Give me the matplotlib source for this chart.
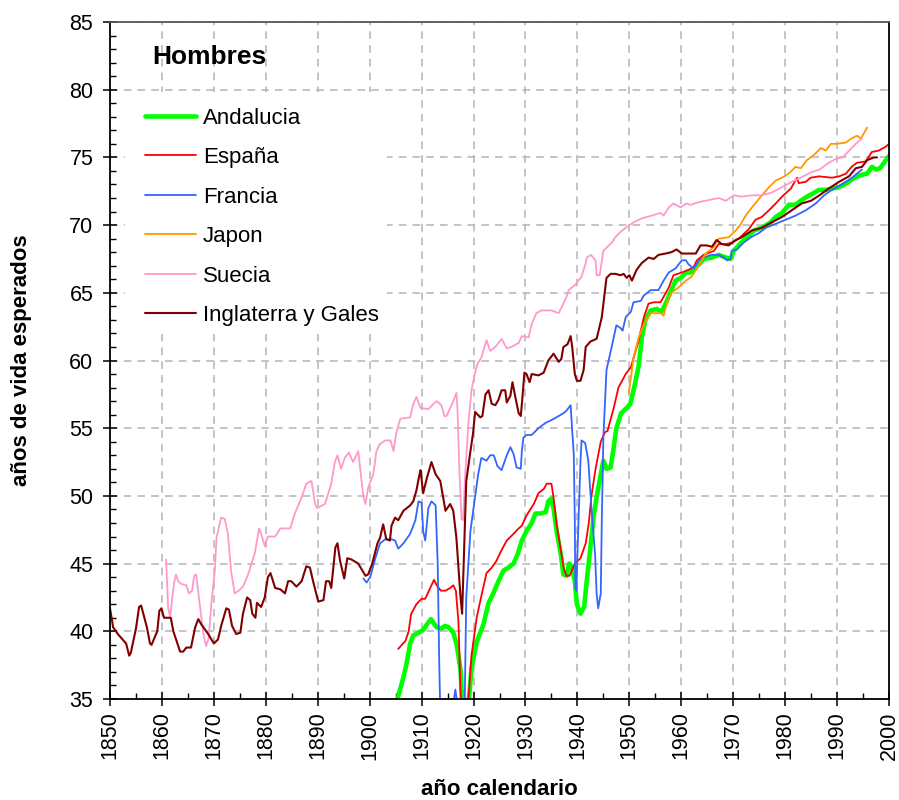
import matplotlib
matplotlib.use("Agg")
import matplotlib.pyplot as plt
from matplotlib.patches import Rectangle
from matplotlib.ticker import MultipleLocator

plt.rcParams["font.family"] = ["Liberation Sans", "DejaVu Sans"]

# --- data (year, life expectancy at birth, men) ---
and_x = [1905.5, 1906.5, 1907.1, 1907.8, 1908.4, 1909.4, 1910.3, 1911.0, 1911.8, 1912.5,
         1912.9, 1913.8, 1914.5, 1915.2, 1916.1, 1916.7, 1917.1, 1917.5, 1917.8, 1918.3,
         1918.8, 1919.3, 1919.6, 1920.6, 1921.9, 1922.9, 1923.8, 1924.8, 1925.8, 1926.7,
         1927.7, 1928.5, 1929.3, 1930.2, 1931.2, 1931.9, 1932.9, 1933.9, 1934.4, 1935.0,
         1935.4, 1936.0, 1936.8, 1937.3, 1937.9, 1938.4, 1938.9, 1939.5, 1939.9, 1940.6,
         1941.3, 1941.8, 1942.5, 1943.1, 1943.7, 1944.5, 1945.0, 1945.6, 1946.4, 1947.0,
         1947.5, 1948.4, 1949.5, 1950.2, 1951.1, 1951.8, 1952.4, 1953.1, 1954.1, 1955.3,
         1956.2, 1957.0, 1958.1, 1958.9, 1959.9, 1960.9, 1961.8, 1962.8, 1963.7, 1964.3,
         1965.9, 1967.2, 1968.6, 1969.5, 1970.1, 1971.5, 1972.6, 1974.0, 1975.5, 1977.2,
         1978.2, 1979.4, 1980.7, 1982.0, 1983.0, 1984.2, 1985.2, 1986.5, 1987.8, 1989.0,
         1990.4, 1991.9, 1993.3, 1994.6, 1995.8, 1996.7, 1997.5, 1998.3, 1999.4, 2000.0]
and_y = [35.2, 36.6, 37.6, 39.1, 39.7, 39.9, 40.1, 40.5, 40.9, 40.5,
         40.3, 40.2, 40.4, 40.3, 39.9, 39.1, 38.2, 37.1, 35.0, 32.0,
         34.0, 35.8, 37.3, 39.2, 40.5, 42.1, 42.8, 43.7, 44.5, 44.7,
         45.0, 45.7, 46.7, 47.4, 48.0, 48.7, 48.7, 48.8, 49.6, 49.8,
         49.1, 47.4, 45.7, 44.2, 44.1, 45.0, 44.8, 43.7, 42.0, 41.3,
         41.8, 43.7, 46.2, 48.4, 49.9, 51.6, 52.6, 52.0, 52.1, 53.6,
         55.0, 56.1, 56.5, 56.8, 58.3, 59.6, 61.7, 63.0, 63.7, 63.8,
         63.6, 64.2, 65.2, 65.9, 66.1, 66.5, 66.5, 66.9, 67.2, 67.5,
         67.6, 67.8, 67.6, 67.5, 68.1, 68.7, 69.1, 69.6, 69.8, 70.2,
         70.6, 70.9, 71.5, 71.5, 71.8, 72.1, 72.3, 72.6, 72.6, 72.7,
         72.8, 73.1, 73.5, 73.7, 73.8, 74.3, 74.1, 74.2, 74.8, 75.1]

esp_x = [1905.5, 1906.9, 1907.5, 1908.0, 1909.0, 1910.0, 1910.7, 1911.3, 1911.9, 1912.4,
         1912.9, 1913.7, 1914.6, 1915.5, 1916.1, 1916.6, 1917.1, 1917.5, 1917.8, 1918.6,
         1919.0, 1919.6, 1920.6, 1921.5, 1922.5, 1923.5, 1924.4, 1925.4, 1926.4, 1927.7,
         1928.7, 1929.3, 1930.0, 1930.6, 1931.6, 1932.5, 1933.5, 1934.1, 1935.0, 1935.4,
         1936.0, 1936.8, 1937.4, 1937.9, 1938.5, 1939.5, 1940.6, 1941.6, 1942.2, 1942.7,
         1943.5, 1944.5, 1945.3, 1945.8, 1947.0, 1947.9, 1949.3, 1950.3, 1951.8, 1952.8,
         1953.7, 1954.7, 1956.0, 1956.6, 1957.6, 1958.5, 1960.1, 1961.4, 1962.4, 1963.0,
         1964.3, 1966.3, 1967.2, 1968.6, 1969.7, 1971.1, 1971.6, 1973.0, 1974.3, 1975.5,
         1976.9, 1978.2, 1979.4, 1981.1, 1981.7, 1982.3, 1982.6, 1984.0, 1984.9, 1986.5,
         1989.0, 1990.4, 1991.7, 1992.8, 1993.8, 1995.5, 1996.7, 1998.0, 1999.4, 2000.0]
esp_y = [38.7, 39.3, 40.0, 41.3, 42.0, 42.4, 42.4, 42.9, 43.4, 43.8,
         43.4, 43.0, 43.0, 43.2, 43.4, 43.0, 40.7, 35.5, 33.0, 32.0,
         34.8, 38.2, 41.0, 42.6, 44.3, 44.7, 45.2, 46.0, 46.7, 47.2,
         47.6, 47.8, 48.4, 48.8, 49.4, 50.2, 50.5, 50.9, 50.9, 49.9,
         47.9, 46.0, 44.6, 44.1, 44.1, 45.0, 45.4, 46.5, 48.0, 50.0,
         52.0, 54.0, 54.7, 54.8, 56.5, 58.0, 59.0, 59.5, 61.5, 63.2,
         64.2, 64.3, 64.3, 64.7, 65.4, 66.3, 66.5, 66.7, 66.9, 67.4,
         67.8, 68.1, 68.6, 68.6, 68.7, 69.0, 69.2, 69.7, 70.4, 70.6,
         71.1, 71.6, 72.1, 72.7, 73.1, 73.5, 73.1, 73.2, 73.5, 73.6,
         73.5, 73.6, 73.8, 74.3, 74.6, 74.7, 75.4, 75.5, 75.8, 76.0]

fra_x = [1898.8, 1899.4, 1900.1, 1901.1, 1902.0, 1903.0, 1904.2, 1904.9, 1905.5, 1906.5,
         1907.8, 1908.8, 1909.4, 1910.0, 1910.3, 1910.7, 1911.3, 1911.9, 1912.7, 1913.1,
         1913.4, 1913.6, 1914.0, 1916.1, 1916.5, 1916.9, 1917.5, 1918.2, 1918.6, 1919.4,
         1920.0, 1920.9, 1921.5, 1922.5, 1923.2, 1923.9, 1924.6, 1925.4, 1926.4, 1927.1,
         1927.7, 1928.3, 1929.1, 1929.3, 1929.6, 1930.2, 1931.2, 1932.5, 1933.9, 1935.0,
         1936.4, 1937.3, 1937.9, 1938.7, 1939.0, 1939.3, 1939.5, 1939.6, 1939.8, 1940.0,
         1940.6, 1940.8, 1941.5, 1942.1, 1942.7, 1943.4, 1943.7, 1944.0, 1944.5, 1944.7,
         1945.0, 1945.6, 1946.6, 1947.5, 1948.3, 1948.7, 1949.3, 1950.3, 1950.8, 1952.2,
         1952.8, 1954.1, 1955.6, 1956.6, 1957.6, 1958.9, 1960.1, 1960.9, 1961.4, 1962.4,
         1963.4, 1964.3, 1965.7, 1967.2, 1968.2, 1968.8, 1969.5, 1969.7, 1970.7, 1972.0,
         1973.4, 1974.9, 1976.3, 1978.2, 1980.1, 1982.0, 1984.0, 1985.9, 1987.5, 1989.0,
         1990.4, 1991.7, 1992.9, 1993.8, 1994.8]
fra_y = [43.9, 43.6, 44.0, 45.4, 46.5, 46.8, 46.8, 46.7, 46.1, 46.5,
         47.2, 48.2, 49.6, 49.5, 47.4, 46.7, 49.1, 49.6, 49.3, 45.0,
         37.6, 34.0, 30.0, 34.6, 35.7, 34.6, 30.0, 32.0, 42.5, 47.4,
         49.1, 51.6, 52.8, 52.6, 53.0, 53.0, 52.2, 51.9, 53.0, 53.6,
         53.1, 52.1, 52.0, 53.3, 54.3, 54.5, 54.5, 55.0, 55.4, 55.6,
         55.9, 56.1, 56.3, 56.7, 54.8, 53.1, 48.2, 43.2, 43.0, 45.7,
         52.6, 54.1, 53.9, 52.6, 49.1, 45.7, 42.8, 41.7, 42.8, 48.2,
         54.3, 59.3, 61.0, 62.6, 62.4, 62.2, 63.2, 63.6, 64.3, 64.4,
         64.8, 65.2, 65.2, 65.9, 66.5, 66.8, 67.4, 67.4, 67.1, 66.8,
         67.4, 67.6, 67.8, 67.8, 67.6, 67.4, 67.5, 68.1, 68.2, 68.7,
         69.1, 69.4, 69.8, 70.1, 70.4, 70.7, 71.1, 71.6, 72.2, 72.6,
         72.9, 73.2, 73.5, 73.8, 74.1]

jap_x = [1949.9, 1950.5, 1950.8, 1951.8, 1952.8, 1954.1, 1955.1, 1956.0, 1956.6, 1957.2,
         1958.1, 1959.5, 1960.9, 1962.0, 1963.4, 1964.7, 1966.3, 1967.2, 1969.1, 1970.5,
         1971.5, 1972.4, 1973.6, 1975.3, 1976.9, 1978.2, 1979.4, 1980.7, 1982.0, 1983.0,
         1984.2, 1985.6, 1986.9, 1987.8, 1988.8, 1989.9, 1991.7, 1992.8, 1993.8, 1994.6,
         1995.2, 1995.8]
jap_y = [57.6, 59.3, 60.2, 61.7, 62.7, 63.5, 63.5, 63.5, 63.3, 64.2,
         65.0, 65.4, 65.9, 66.2, 67.0, 67.9, 68.4, 69.0, 69.1, 69.6,
         70.1, 70.7, 71.3, 72.1, 72.8, 73.3, 73.5, 73.8, 74.3, 74.2,
         74.8, 75.2, 75.7, 75.5, 76.0, 76.0, 76.1, 76.4, 76.6, 76.4,
         76.8, 77.2]

sue_x = [1860.8, 1861.2, 1861.6, 1861.9, 1862.3, 1862.7, 1863.1, 1863.7, 1864.7, 1865.2,
         1865.8, 1866.2, 1866.6, 1866.9, 1867.5, 1868.0, 1868.5, 1869.0, 1869.5, 1870.2,
         1870.5, 1871.4, 1872.1, 1872.7, 1873.3, 1874.0, 1874.8, 1875.6, 1876.6, 1877.9,
         1878.7, 1879.1, 1879.8, 1880.4, 1881.8, 1882.8, 1884.7, 1885.6, 1886.9, 1887.8,
         1888.8, 1889.5, 1889.9, 1891.4, 1892.6, 1893.3, 1893.8, 1894.5, 1895.2, 1896.0,
         1896.8, 1897.8, 1898.8, 1899.2, 1899.7, 1900.7, 1901.3, 1901.9, 1903.0, 1904.0,
         1904.6, 1905.1, 1905.9, 1907.8, 1908.4, 1909.0, 1909.8, 1911.3, 1912.3, 1912.9,
         1913.8, 1914.4, 1914.8, 1915.5, 1916.1, 1916.7, 1916.9, 1917.3, 1917.7, 1918.0,
         1918.4, 1919.0, 1919.6, 1920.3, 1920.8, 1921.5, 1922.5, 1923.2, 1924.2, 1925.4,
         1926.4, 1927.3, 1928.7, 1929.3, 1930.6, 1931.2, 1932.1, 1933.1, 1935.0, 1936.4,
         1937.3, 1937.9, 1938.3, 1939.6, 1940.8, 1941.6, 1941.8, 1942.6, 1943.5, 1943.7,
         1944.3, 1945.0, 1946.6, 1947.3, 1948.3, 1949.3, 1950.8, 1952.4, 1954.3, 1956.0,
         1956.6, 1957.6, 1958.5, 1959.9, 1960.9, 1961.8, 1963.4, 1964.7, 1965.9, 1967.2,
         1968.6, 1970.1, 1971.6, 1973.6, 1975.5, 1977.4, 1979.4, 1981.3, 1983.0, 1985.0,
         1986.6, 1988.4, 1989.8, 1991.1, 1992.3, 1993.6, 1994.8]
sue_y = [45.3, 41.7, 41.1, 42.2, 43.5, 44.2, 43.7, 43.5, 43.4, 42.8,
         43.0, 44.1, 44.2, 43.2, 41.3, 39.8, 38.9, 39.5, 42.0, 44.5,
         46.9, 48.4, 48.3, 47.2, 44.5, 42.8, 43.0, 43.3, 44.2, 45.8,
         47.6, 47.2, 46.3, 47.0, 47.0, 47.6, 47.6, 48.7, 49.9, 50.9,
         51.1, 49.4, 49.1, 49.4, 50.9, 52.5, 53.0, 52.0, 52.8, 53.2,
         52.5, 53.3, 49.9, 49.4, 50.6, 51.6, 53.3, 53.8, 54.1, 54.1,
         53.3, 54.6, 55.7, 55.8, 56.8, 57.3, 56.5, 56.4, 56.8, 57.0,
         56.7, 55.9, 55.9, 56.5, 57.0, 57.6, 56.5, 51.6, 48.3, 48.2,
         51.6, 55.3, 57.8, 59.1, 59.8, 60.2, 61.5, 60.7, 61.0, 61.6,
         60.9, 61.0, 61.3, 61.8, 61.7, 62.7, 63.5, 63.7, 63.7, 63.5,
         64.2, 64.7, 65.2, 65.6, 66.2, 67.2, 67.6, 67.8, 67.4, 66.3,
         66.3, 68.1, 68.7, 69.1, 69.5, 69.8, 70.2, 70.5, 70.7, 70.9,
         70.7, 71.3, 71.6, 71.3, 71.6, 71.5, 71.7, 71.8, 71.9, 72.0,
         71.8, 72.2, 72.1, 72.2, 72.2, 72.4, 72.8, 73.2, 73.5, 73.9,
         74.1, 74.6, 74.9, 75.0, 75.5, 76.0, 76.4]

ing_x = [1850.0, 1850.6, 1851.5, 1853.1, 1853.7, 1854.0, 1855.0, 1855.6, 1856.0, 1857.1,
         1857.7, 1858.0, 1859.1, 1859.5, 1859.9, 1860.4, 1861.7, 1862.2, 1863.5, 1864.1,
         1864.7, 1865.6, 1866.4, 1867.0, 1867.6, 1868.9, 1870.0, 1870.8, 1871.4, 1872.4,
         1872.9, 1873.5, 1874.3, 1875.1, 1875.6, 1876.4, 1877.0, 1877.4, 1878.0, 1878.3,
         1879.1, 1879.8, 1880.4, 1880.9, 1881.8, 1882.8, 1883.7, 1884.3, 1884.9, 1885.9,
         1886.9, 1887.8, 1888.5, 1889.1, 1890.1, 1891.1, 1891.6, 1892.2, 1892.6, 1893.4,
         1893.8, 1894.3, 1895.1, 1895.7, 1896.5, 1897.8, 1899.2, 1899.7, 1900.5, 1901.5,
         1902.0, 1902.6, 1903.2, 1903.9, 1904.2, 1904.9, 1905.5, 1906.5, 1907.8, 1908.4,
         1909.0, 1909.6, 1909.8, 1910.3, 1911.0, 1911.9, 1912.7, 1913.6, 1914.6, 1915.5,
         1916.1, 1916.7, 1917.5, 1917.8, 1918.1, 1918.6, 1919.4, 1919.9, 1920.3, 1921.3,
         1921.7, 1922.3, 1922.9, 1923.5, 1924.2, 1924.8, 1925.4, 1926.1, 1926.4, 1927.1,
         1927.5, 1928.1, 1928.7, 1929.1, 1929.4, 1929.8, 1930.2, 1930.8, 1931.2, 1932.5,
         1933.5, 1934.4, 1935.4, 1936.4, 1936.9, 1937.3, 1938.1, 1938.7, 1939.0, 1939.5,
         1939.9, 1940.6, 1941.2, 1941.6, 1942.5, 1943.7, 1944.7, 1945.6, 1946.4, 1947.3,
         1948.3, 1948.9, 1949.5, 1950.0, 1950.5, 1951.4, 1952.4, 1953.7, 1954.7, 1955.6,
         1957.0, 1958.1, 1959.1, 1960.1, 1962.8, 1963.7, 1964.9, 1965.9, 1966.8, 1967.8,
         1969.1, 1970.5, 1971.6, 1973.6, 1975.5, 1977.4, 1979.4, 1981.3, 1983.2, 1985.0,
         1986.6, 1988.4, 1990.4, 1992.3, 1993.6, 1994.8, 1995.8, 1997.1, 1997.7]
ing_y = [41.7, 40.3, 39.8, 39.1, 38.2, 38.4, 40.2, 41.8, 41.9, 40.3,
         39.1, 39.0, 40.0, 41.5, 41.7, 41.0, 41.0, 40.0, 38.5, 38.5,
         38.8, 38.8, 40.3, 40.9, 40.5, 39.8, 39.1, 39.4, 40.4, 41.7,
         41.6, 40.4, 39.8, 39.9, 41.3, 42.5, 42.3, 41.3, 41.0, 42.1,
         41.8, 42.5, 44.0, 44.3, 43.2, 43.1, 42.8, 43.7, 43.7, 43.3,
         43.7, 44.8, 44.7, 43.7, 42.2, 42.3, 43.7, 43.7, 43.2, 46.2,
         46.5, 45.2, 43.9, 45.4, 45.3, 45.0, 44.1, 44.2, 45.0, 46.5,
         46.9, 47.9, 46.8, 46.7, 47.8, 48.4, 48.2, 48.9, 49.3, 49.6,
         50.4, 51.6, 51.9, 50.2, 51.3, 52.5, 51.6, 51.1, 48.9, 49.4,
         48.9, 46.9, 42.5, 41.3, 45.0, 51.1, 53.3, 54.6, 56.2, 55.8,
         55.9, 57.5, 57.8, 56.8, 56.7, 57.1, 57.8, 57.8, 56.9, 57.4,
         58.4, 57.2, 56.1, 55.9, 57.2, 59.1, 59.0, 58.4, 59.0, 58.9,
         59.1, 60.0, 60.5, 59.9, 60.1, 61.0, 61.2, 61.8, 61.0, 59.0,
         58.5, 58.5, 59.3, 61.0, 61.4, 61.6, 63.2, 66.1, 66.4, 66.4,
         66.3, 66.4, 66.1, 66.3, 65.9, 66.7, 67.2, 67.6, 67.5, 67.8,
         67.9, 68.0, 68.2, 67.9, 67.9, 68.5, 68.5, 68.4, 68.9, 68.6,
         68.5, 68.9, 69.1, 69.6, 69.8, 70.2, 70.6, 71.1, 71.6, 71.8,
         72.2, 72.7, 73.2, 73.6, 74.2, 74.3, 74.8, 75.0, 75.0]

series = [
    ("Andalucia", and_x, and_y, "#00ff00", 3.3),
    ("España", esp_x, esp_y, "#ff0000", 1.3),
    ("Francia", fra_x, fra_y, "#3366ff", 1.3),
    ("Japon", jap_x, jap_y, "#ff9900", 1.3),
    ("Suecia", sue_x, sue_y, "#ff99cc", 1.3),
    ("Inglaterra y Gales", ing_x, ing_y, "#800000", 1.5),
]

fig = plt.figure(figsize=(8.99, 8.0), dpi=100)
ax = fig.add_axes([110 / 899, 1 - 699 / 800, 779 / 899, 677 / 800])

handles = []
for name, xs, ys, color, lw in series:
    (h,) = ax.plot(xs, ys, color=color, lw=lw, label=name, zorder=2,
                   solid_joinstyle="round", solid_capstyle="round")
    handles.append(h)

ax.set_xlim(1850, 2000)
ax.set_ylim(35, 85)
ax.xaxis.set_major_locator(MultipleLocator(10))
ax.xaxis.set_minor_locator(MultipleLocator(5))
ax.yaxis.set_major_locator(MultipleLocator(5))
ax.yaxis.set_minor_locator(MultipleLocator(1))

ax.set_axisbelow(True)
ax.grid(True, which="major", color="#b4b4b4", linestyle=(0, (5, 4)), lw=1.1)

ax.tick_params(which="major", direction="inout", length=10, width=1.1,
               labelsize=15.5, color="black")
ax.tick_params(axis="x", which="major", pad=4, labelrotation=90)
ax.tick_params(axis="y", which="major", pad=7)
ax.tick_params(which="minor", direction="in", length=4, width=1.0)

for side in ["left", "bottom", "right"]:
    ax.spines[side].set_color("black")
    ax.spines[side].set_linewidth(1.3)
ax.spines["top"].set_color("#555555")
ax.spines["top"].set_linewidth(1.3)

ax.set_xlabel("año calendario", fontsize=16, fontweight="bold", labelpad=14)
ax.set_ylabel("años de vida esperados", fontsize=16, fontweight="bold", labelpad=27)

# white panel behind the legend hides the grid there
ax.add_patch(Rectangle((0.019, 0.545), 0.336, 0.352, transform=ax.transAxes,
                       facecolor="white", edgecolor="none", zorder=1))

ax.text(0.0539, 0.948, "Hombres", transform=ax.transAxes, fontsize=19,
        fontweight="bold", va="center", ha="left")

leg = ax.legend(handles=handles, loc="upper left", bbox_to_anchor=(0.028, 0.893),
                frameon=False, fontsize=16, handlelength=2.3, handletextpad=0.3,
                labelspacing=0.83, borderaxespad=0, borderpad=0.6)

fig.savefig("out.png", dpi=100)
plt.close(fig)
